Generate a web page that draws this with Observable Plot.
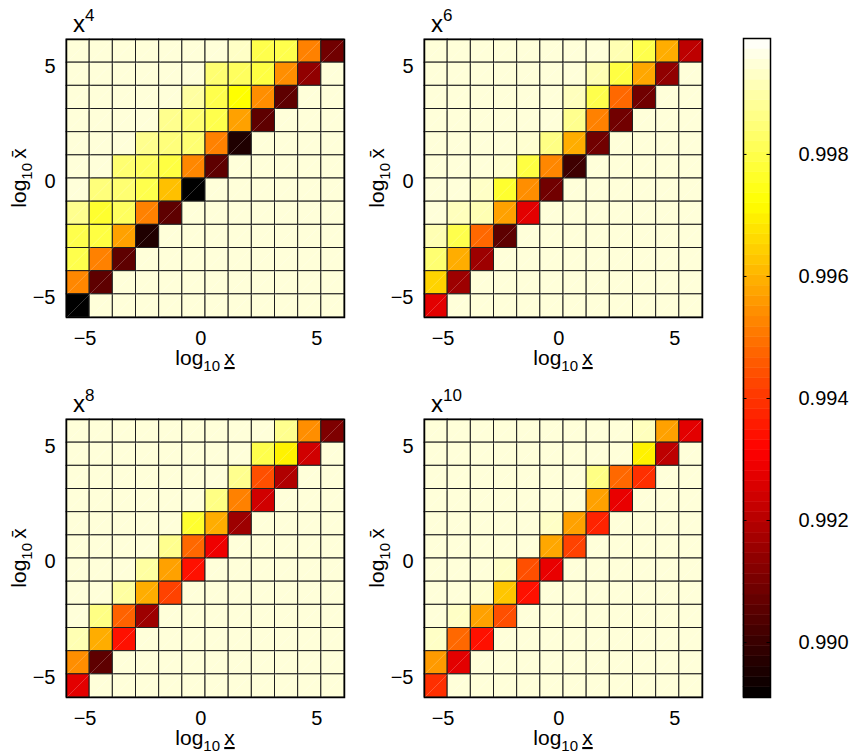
<!DOCTYPE html>
<html><head><meta charset="utf-8">
<script src="https://cdn.jsdelivr.net/npm/d3@7"></script>
<script src="https://cdn.jsdelivr.net/npm/@observablehq/plot@0.6"></script>
<style>
body{margin:0;background:#fff;}
#root{position:relative;width:858px;height:755px;font-family:"Liberation Sans",Arial,Helvetica,sans-serif;}
#root > svg{position:absolute;}
</style></head><body><div id="root"></div>
<script>
// bin edges of log10 x (columns) and log10 xbar (rows)
const xEdges = [-5.8,-4.8,-3.8,-2.8,-1.8,-0.8,0.2,1.2,2.2,3.2,4.2,5.2,6.2];
const yEdges = [-5.85,-4.85,-3.85,-2.85,-1.85,-0.85,0.15,1.15,2.15,3.15,4.15,5.15,6.15];
const axisTicks = [-5, 0, 5];
const colorTicks = [0.990, 0.992, 0.994, 0.996, 0.998];
const colorDomain = [0.9891, 0.99315, 0.9972, 0.9999];
const colorRange = ["#000000", "#ff0000", "#ffff00", "#ffffff"];
const exponents = ["4", "6", "8", "10"];

// rows listed from top (highest log10 xbar) to bottom, columns left to right
const x4 = [
 [.9995,.9995,.9995,.9995,.9995,.9995,.9995,.9993,.9980,.9980,.9952,.9909],
 [.9995,.9995,.9995,.9995,.9995,.9995,.9984,.9982,.9979,.9954,.9914,.9995],
 [.9995,.9995,.9995,.9995,.9995,.9989,.9980,.9972,.9954,.9906,.9995,.9995],
 [.9995,.9995,.9995,.9995,.9987,.9984,.9980,.9957,.9906,.9995,.9995,.9995],
 [.9995,.9995,.9995,.9987,.9985,.9984,.9952,.9896,.9995,.9995,.9995,.9995],
 [.9995,.9995,.9984,.9982,.9979,.9953,.9906,.9995,.9995,.9995,.9995,.9995],
 [.9995,.9985,.9984,.9980,.9962,.9891,.9995,.9995,.9995,.9995,.9995,.9995],
 [.9987,.9977,.9982,.9952,.9906,.9995,.9995,.9995,.9995,.9995,.9995,.9995],
 [.9980,.9979,.9957,.9896,.9995,.9995,.9995,.9995,.9995,.9995,.9995,.9995],
 [.9980,.9952,.9906,.9995,.9995,.9995,.9995,.9995,.9995,.9995,.9995,.9995],
 [.9953,.9906,.9995,.9995,.9995,.9995,.9995,.9995,.9995,.9995,.9995,.9995],
 [.9891,.9995,.9995,.9995,.9995,.9995,.9995,.9995,.9995,.9995,.9995,.9995]
];
const x6 = [
 [.9995,.9995,.9995,.9995,.9995,.9995,.9995,.9995,.9991,.9980,.9959,.9921],
 [.9995,.9995,.9995,.9995,.9995,.9995,.9995,.9991,.9979,.9958,.9914,.9995],
 [.9995,.9995,.9995,.9995,.9995,.9995,.9992,.9980,.9948,.9909,.9995,.9995],
 [.9995,.9995,.9995,.9995,.9995,.9995,.9987,.9952,.9909,.9995,.9995,.9995],
 [.9995,.9995,.9995,.9995,.9994,.9986,.9959,.9909,.9995,.9995,.9995,.9995],
 [.9995,.9995,.9995,.9994,.9979,.9953,.9901,.9995,.9995,.9995,.9995,.9995],
 [.9995,.9995,.9993,.9977,.9954,.9909,.9995,.9995,.9995,.9995,.9995,.9995],
 [.9995,.9992,.9991,.9957,.9927,.9995,.9995,.9995,.9995,.9995,.9995,.9995],
 [.9991,.9980,.9948,.9906,.9995,.9995,.9995,.9995,.9995,.9995,.9995,.9995],
 [.9984,.9959,.9916,.9995,.9995,.9995,.9995,.9995,.9995,.9995,.9995,.9995],
 [.9965,.9916,.9995,.9995,.9995,.9995,.9995,.9995,.9995,.9995,.9995,.9995],
 [.9927,.9995,.9995,.9995,.9995,.9995,.9995,.9995,.9995,.9995,.9995,.9995]
];
const x8 = [
 [.9995,.9995,.9995,.9995,.9995,.9995,.9995,.9995,.9995,.9987,.9954,.9911],
 [.9995,.9995,.9995,.9995,.9995,.9995,.9995,.9995,.9980,.9970,.9924,.9995],
 [.9995,.9995,.9995,.9995,.9995,.9995,.9995,.9987,.9944,.9919,.9995,.9995],
 [.9995,.9995,.9995,.9995,.9995,.9995,.9986,.9952,.9924,.9995,.9995,.9995],
 [.9995,.9995,.9995,.9995,.9995,.9977,.9959,.9916,.9995,.9995,.9995,.9995],
 [.9995,.9995,.9995,.9995,.9987,.9948,.9929,.9995,.9995,.9995,.9995,.9995],
 [.9995,.9995,.9995,.9989,.9957,.9934,.9995,.9995,.9995,.9995,.9995,.9995],
 [.9995,.9995,.9989,.9959,.9942,.9995,.9995,.9995,.9995,.9995,.9995,.9995],
 [.9995,.9986,.9947,.9916,.9995,.9995,.9995,.9995,.9995,.9995,.9995,.9995],
 [.9991,.9959,.9934,.9995,.9995,.9995,.9995,.9995,.9995,.9995,.9995,.9995],
 [.9954,.9906,.9995,.9995,.9995,.9995,.9995,.9995,.9995,.9995,.9995,.9995],
 [.9927,.9995,.9995,.9995,.9995,.9995,.9995,.9995,.9995,.9995,.9995,.9995]
];
const x10 = [
 [.9995,.9995,.9995,.9995,.9995,.9995,.9995,.9995,.9995,.9992,.9957,.9927],
 [.9995,.9995,.9995,.9995,.9995,.9995,.9995,.9995,.9995,.9970,.9921,.9995],
 [.9995,.9995,.9995,.9995,.9995,.9995,.9995,.9986,.9948,.9939,.9995,.9995],
 [.9995,.9995,.9995,.9995,.9995,.9995,.9995,.9957,.9928,.9995,.9995,.9995],
 [.9995,.9995,.9995,.9995,.9995,.9993,.9957,.9937,.9995,.9995,.9995,.9995],
 [.9995,.9995,.9995,.9995,.9995,.9958,.9942,.9995,.9995,.9995,.9995,.9995],
 [.9995,.9995,.9995,.9993,.9944,.9928,.9995,.9995,.9995,.9995,.9995,.9995],
 [.9995,.9995,.9994,.9963,.9934,.9995,.9995,.9995,.9995,.9995,.9995,.9995],
 [.9995,.9993,.9957,.9944,.9995,.9995,.9995,.9995,.9995,.9995,.9995,.9995],
 [.9993,.9948,.9934,.9995,.9995,.9995,.9995,.9995,.9995,.9995,.9995,.9995],
 [.9956,.9927,.9995,.9995,.9995,.9995,.9995,.9995,.9995,.9995,.9995,.9995],
 [.9939,.9995,.9995,.9995,.9995,.9995,.9995,.9995,.9995,.9995,.9995,.9995]
];

const FONT = '"Liberation Sans", Arial, Helvetica, sans-serif';
const root = document.getElementById("root");
const colorOpts = {type: "linear", domain: colorDomain, range: colorRange, clamp: true};

const W = 358, H = 380, ML = 66, MR = 14, MT = 39, MB = 63;

function panel(matrix, exp, left, top) {
  const n = matrix.length;
  const cells = [];
  matrix.forEach((row, r) => row.forEach((v, c) => cells.push({
    x1: xEdges[c], x2: xEdges[c + 1], y1: yEdges[n - 1 - r], y2: yEdges[n - r], v
  })));
  const svg = Plot.plot({
    width: W, height: H, marginLeft: ML, marginRight: MR, marginTop: MT, marginBottom: MB,
    x: {domain: [xEdges[0], xEdges[n]], ticks: axisTicks, tickSize: 0, tickPadding: 13, label: null},
    y: {domain: [yEdges[0], yEdges[n]], ticks: axisTicks, tickSize: 0, tickPadding: 11, label: null},
    color: colorOpts,
    style: {fontSize: "20px", fontFamily: FONT, color: "#000", background: "transparent", overflow: "visible"},
    marks: [
      Plot.rect(cells, {x1: "x1", x2: "x2", y1: "y1", y2: "y2", fill: "v", stroke: "#1e1e1e", strokeWidth: 1}),
      Plot.link(cells, {x1: "x1", y1: "y1", x2: "x2", y2: "y2", stroke: "#ffffff", strokeOpacity: 0.3, strokeWidth: 0.7}),
      Plot.frame({stroke: "#000", strokeWidth: 1.5})
    ]
  });
  svg.style.left = left + "px";
  svg.style.top = top + "px";
  const s = d3.select(svg);
  // title x^n
  const t = s.append("text").attr("x", ML + 7).attr("y", 32).attr("text-anchor", "start")
    .attr("font-family", FONT).attr("font-size", 24).attr("fill", "#000");
  t.append("tspan").text("x");
  t.append("tspan").attr("font-size", 17).attr("dy", -11).text(exp);
  // x label
  const cx = ML + (W - ML - MR) / 2;
  const xl = s.append("text").attr("x", cx).attr("y", H - MB + 48)
    .attr("text-anchor", "middle").attr("font-family", FONT).attr("font-size", 21).attr("fill", "#000");
  xl.append("tspan").text("log");
  xl.append("tspan").attr("font-size", 15).attr("dy", 6).text("10");
  xl.append("tspan").attr("dy", -6).text("\u2009");
  xl.append("tspan").style("text-decoration", "underline").text("x");
  // y label
  const cy = MT + (H - MT - MB) / 2;
  const yl = s.append("text").attr("transform", `translate(26,${cy}) rotate(-90)`)
    .attr("text-anchor", "middle").attr("font-family", FONT).attr("font-size", 21).attr("fill", "#000");
  yl.append("tspan").text("log");
  yl.append("tspan").attr("font-size", 15).attr("dy", 6).text("10");
  yl.append("tspan").attr("dy", -6).text("\u2009x\u0304");
  root.appendChild(svg);
}

panel(x4, exponents[0], 0, 0);
panel(x6, exponents[1], W, 0);
panel(x8, exponents[2], 0, H);
panel(x10, exponents[3], W, H);

// colorbar (64-level ramp of the same color scale)
const lo = colorDomain[0], hi = colorDomain[colorDomain.length - 1];
const nLevels = 64;
const bands = d3.range(nLevels).map(i => ({
  y1: lo + i * (hi - lo) / nLevels, y2: lo + (i + 1) * (hi - lo) / nLevels, v: lo + (i + 0.5) * (hi - lo) / nLevels
}));
const cb = Plot.plot({
  width: 142, height: 755, marginLeft: 27, marginRight: 88, marginTop: 38, marginBottom: 58,
  x: {domain: [0, 1], axis: null},
  y: {domain: [lo, hi], ticks: colorTicks, tickFormat: d3.format(".3f"), axis: "right", tickSize: 0, tickPadding: 28, label: null},
  color: colorOpts,
  style: {fontSize: "20px", fontFamily: FONT, color: "#000", background: "transparent"},
  marks: [
    Plot.rect(bands, {x1: 0, x2: 1, y1: "y1", y2: "y2", fill: "v", stroke: "v", strokeWidth: 0.5}),
    Plot.ruleY(colorTicks, {x1: 0, x2: 0.13, stroke: "#000", strokeWidth: 1}),
    Plot.ruleY(colorTicks, {x1: 0.87, x2: 1, stroke: "#000", strokeWidth: 1}),
    Plot.frame({stroke: "#000", strokeWidth: 1.5})
  ]
});
cb.style.left = "716px";
cb.style.top = "0px";
root.appendChild(cb);
</script>
</body></html>
